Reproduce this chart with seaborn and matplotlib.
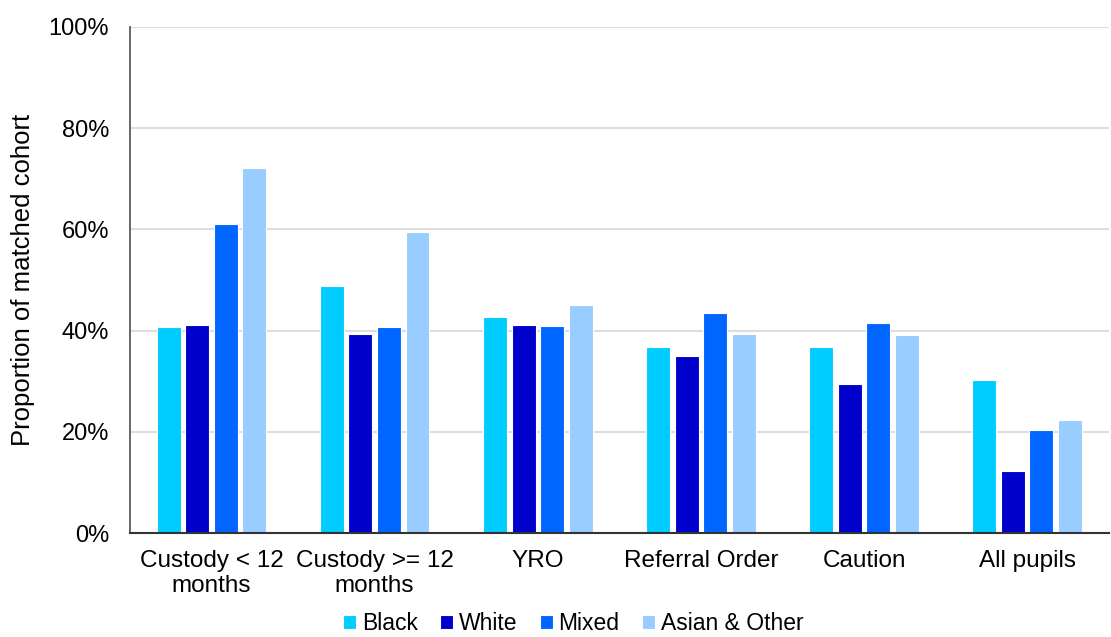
import numpy as np
import pandas as pd
import matplotlib.pyplot as plt
import seaborn as sns
from matplotlib.ticker import PercentFormatter

outcomes = ['Custody < 12\nmonths', 'Custody >= 12\nmonths', 'YRO', 'Referral Order', 'Caution', 'All pupils']
groups = ['Black', 'White', 'Mixed', 'Asian & Other']
black = [40.8, 48.9, 42.6, 36.7, 36.7, 30.2]
white = [41.2, 39.4, 41.2, 34.9, 29.4, 12.2]
mixed = [61.1, 40.8, 41.0, 43.4, 41.6, 20.3]
asian_other = [72.2, 59.4, 45.0, 39.3, 39.1, 22.3]
colours = ['#00CCFF', '#0000CC', '#0066FF', '#99CCFF']

rows = []
for g, vals in zip(groups, [black, white, mixed, asian_other]):
    for o, v in zip(outcomes, vals):
        rows.append({'outcome': o, 'group': g, 'pct': v})
df = pd.DataFrame(rows)

sns.set_theme(style="white")
plt.rcParams['font.family'] = ['Liberation Sans', 'DejaVu Sans']
plt.rcParams['text.color'] = 'black'
plt.rcParams['axes.labelcolor'] = 'black'

fig = plt.figure(figsize=(11.11, 6.37), dpi=100)
ax = fig.add_axes([0.117, 0.163, 0.881, 0.795])
sns.barplot(data=df, x='outcome', y='pct', hue='group', palette=colours, saturation=1,
            width=0.7, gap=0.16, edgecolor='white', linewidth=0.8, ax=ax)

ax.set_ylim(0, 100)
ax.set_yticks(np.arange(0, 101, 20))
ax.yaxis.set_major_formatter(PercentFormatter(decimals=0))
ax.grid(axis='y', color='#DDDDDD', linewidth=1.5)
ax.set_axisbelow(True)
for s in ['top', 'right']:
    ax.spines[s].set_visible(False)
ax.spines['left'].set_color('#555555')
ax.spines['bottom'].set_color('#333333')
ax.spines['bottom'].set_linewidth(1.5)
ax.tick_params(axis='both', length=0, colors='black')
ax.tick_params(axis='y', labelsize=17, pad=15)
ax.tick_params(axis='x', labelsize=17.5, pad=12)
ax.set_xlabel('')
ax.set_ylabel('Proportion of matched cohort', fontsize=18.5, labelpad=10, color='black')

leg = ax.legend(loc='upper center', bbox_to_anchor=(0.453, -0.156), ncol=4, frameon=False,
                fontsize=16.5, handlelength=0.55, handleheight=0.55, handletextpad=0.25,
                columnspacing=1.0, borderaxespad=0, borderpad=0)
for t in leg.get_texts():
    t.set_color('black')

fig.savefig('out.png', dpi=100)
